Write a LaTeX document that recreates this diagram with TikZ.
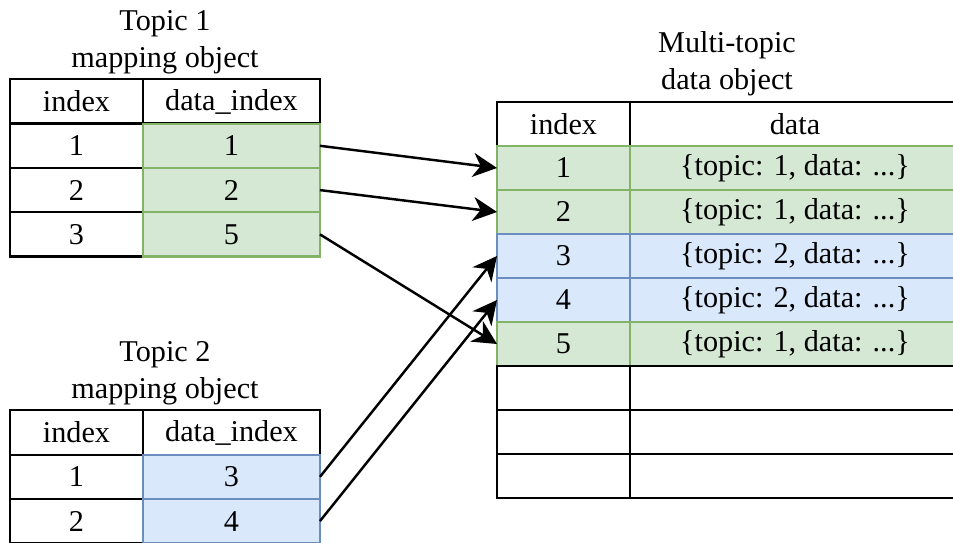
\documentclass[tikz,border=0pt]{standalone}
\usepackage{fontspec}
\setmainfont{Liberation Serif}
\newfontfamily\tmsfont{Liberation Serif}
\usetikzlibrary{arrows.meta}
\definecolor{grnfill}{HTML}{D5E8D4}
\definecolor{grnline}{HTML}{82B366}
\definecolor{blufill}{HTML}{DAE8FC}
\definecolor{bluline}{HTML}{6C8EBF}
\tikzset{>={Stealth[length=0.48cm,width=0.48cm,inset=0.15cm]}}
\tikzset{ cell/.style={draw,line width=1.3pt,inner sep=0pt,outer sep=0pt,minimum height=0.886cm}, idx/.style={cell,minimum width=2.66cm}, datidx/.style={cell,minimum width=3.54cm}, rec/.style={cell,minimum width=6.6cm}, grn/.style={draw=grnline,fill=grnfill}, blu/.style={draw=bluline,fill=blufill}, title/.style={align=center}, conn/.style={->,line width=1.4pt} }

\begin{document}
\begin{tikzpicture}[x=0.02cm,y=-0.02cm,every node/.style={font=\tmsfont\fontsize{17.2}{21}\selectfont}]
  \clip (0,0) rectangle (953,543);
  % topic 1 mapping object
  \node[title] (ta) at (165,42) {Topic 1\\mapping object};
  \node[idx] (ta-h1) at (76.5,101.5) {index};
  \node[datidx] (ta-h2) at (231.5,101.5) {data\_index};
  \foreach \d [count=\i] in {1,2,5} {
    \node[idx] (ta-i\i) at (76.5,{101.5+44.3*\i}) {\i};
    \node[datidx,grn] (ta-d\i) at (231.5,{101.5+44.3*\i}) {\d};
  }
  % topic 2 mapping object
  \node[title] (tb) at (165,373) {Topic 2\\mapping object};
  \node[idx] (tb-h1) at (76.5,432.5) {index};
  \node[datidx] (tb-h2) at (231.5,432.5) {data\_index};
  \foreach \d [count=\i] in {3,4} {
    \node[idx] (tb-i\i) at (76.5,{432.5+44.3*\i}) {\i};
    \node[datidx,blu] (tb-d\i) at (231.5,{432.5+44.3*\i}) {\d};
  }
  % multi-topic data object
  \node[title] (db) at (727,64) {Multi-topic\\data object};
  \node[idx] (db-h1) at (563.5,124) {index};
  \node[rec] (db-h2) at (795,124) {data};
  \foreach \t/\c [count=\i] in {1/grn,1/grn,2/blu,2/blu,1/grn} {
    \node[idx,\c] (db-i\i) at (563.5,{124+44*\i}) {\i};
    \node[rec,\c] (db-d\i) at (795,{124+44*\i}) {\{topic: \t, data: ...\}};
  }
  \foreach \i in {6,7,8} {
    \node[idx] (db-i\i) at (563.5,{124+44*\i}) {};
    \node[rec] (db-d\i) at (795,{124+44*\i}) {};
  }
  % arrows
  \draw[conn] (ta-d1.east) -- (db-i1.west);
  \draw[conn] (ta-d2.east) -- (db-i2.west);
  \draw[conn] (ta-d3.east) -- (db-i5.west);
  \draw[conn] (tb-d1.east) -- (db-i3.west);
  \draw[conn] (tb-d2.east) -- (db-i4.west);
\end{tikzpicture}
\end{document}
